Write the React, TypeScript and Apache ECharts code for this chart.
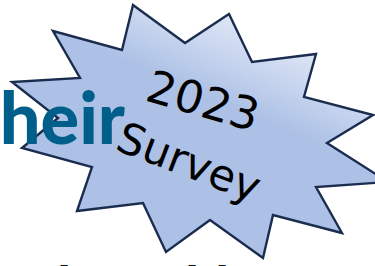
import React, { useEffect, useRef } from "react";
import * as echarts from "echarts";

// Starburst outline (pixel vertices, clockwise from the top point)
const burstPoints: number[][] = [
  [133, 5], [185, 43], [229, 14], [252, 62], [316, 54], [304, 97],
  [373, 115], [327, 143], [388, 182], [316, 187], [342, 233], [273, 215],
  [263, 258], [210, 220], [166, 252], [143, 203], [77, 211], [92, 167],
  [22, 148], [58, 118], [12, 82], [80, 78], [53, 31], [122, 50],
];

const yearLabel = "2023";
const surveyLabel = "Survey";
const titleWord = "their";
const bottomAscenders = ["l", "l", "l"];
const bottomAscenderX = [64, 192, 222];

export default function App() {
  const ref = useRef<HTMLDivElement>(null);
  useEffect(() => {
    document.body.style.margin = "0";
    if (!ref.current) return;
    const chart = echarts.init(ref.current, undefined, { renderer: "svg" });
    const deg = Math.PI / 180;
    chart.setOption({
      animation: false,
      graphic: [
        {
          type: "polygon",
          shape: { points: burstPoints },
          style: {
            fill: new echarts.graphic.LinearGradient(0.78, 0.02, 0.55, 0.38, [
              { offset: 0, color: "#f3f6fc" },
              { offset: 1, color: "#adc1e6" },
            ]),
            stroke: "#1b2d4f",
            lineWidth: 2.4,
            lineJoin: "miter",
          },
          z: 1,
        },
        {
          type: "text",
          x: 125,
          y: 80,
          z: 5,
          style: {
            text: titleWord,
            fill: "#005f8a",
            font: "900 72px Lato",
            align: "right",
            verticalAlign: "top",
          },
        },
        {
          type: "text",
          x: 203,
          y: 101,
          rotation: -16 * deg,
          z: 6,
          style: {
            text: yearLabel,
            fill: "#000000",
            font: "45px 'DejaVu Sans'",
            align: "center",
            verticalAlign: "middle",
          },
        },
        {
          type: "text",
          x: 189,
          y: 162,
          rotation: -21 * deg,
          z: 6,
          style: {
            text: surveyLabel,
            fill: "#000000",
            font: "43px 'DejaVu Sans'",
            align: "center",
            verticalAlign: "middle",
          },
        },
        ...bottomAscenders.map((t, i) => ({
          type: "text",
          x: bottomAscenderX[i],
          y: 262,
          z: 6,
          style: {
            text: t,
            fill: "#111111",
            font: "bold 40px 'DejaVu Sans'",
            align: "center",
            verticalAlign: "top",
          },
        })),
      ],
    });
    return () => chart.dispose();
  }, []);
  return <div ref={ref} style={{ width: 375, height: 266 }} />;
}
